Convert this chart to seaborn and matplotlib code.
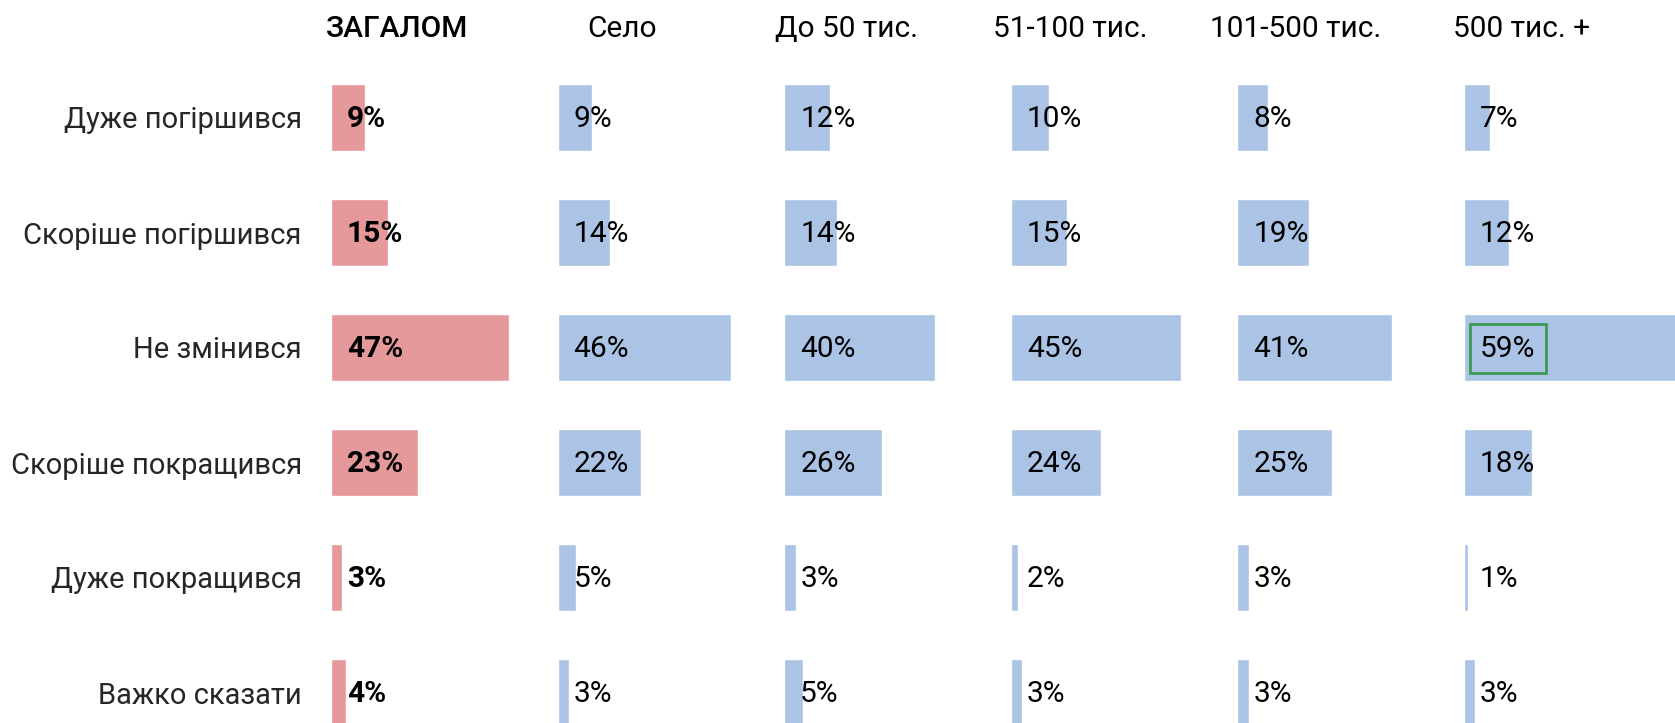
import matplotlib
matplotlib.use("Agg")
import matplotlib.pyplot as plt
import seaborn as sns

# Дані з графіка
categories = ["Дуже погіршився", "Скоріше погіршився", "Не змінився",
              "Скоріше покращився", "Дуже покращився", "Важко сказати"]
groups = ["ЗАГАЛОМ", "Село", "До 50 тис.", "51-100 тис.", "101-500 тис.", "500 тис. +"]
total = [9, 15, 47, 23, 3, 4]
selo = [9, 14, 46, 22, 5, 3]
do_50 = [12, 14, 40, 26, 3, 5]
t_51_100 = [10, 15, 45, 24, 2, 3]
t_101_500 = [8, 19, 41, 25, 3, 3]
t_500_plus = [7, 12, 59, 18, 1, 3]

series = [total, selo, do_50, t_51_100, t_101_500, t_500_plus]

sns.set_style("white")
plt.rcParams["font.family"] = ["Roboto", "DejaVu Sans"]

W, H = 1675, 723
fig = plt.figure(figsize=(W / 100, H / 100), dpi=100)

x0 = 331
panel_w = 226.6
top = 60
bottom = 750
# зсув заголовків від початку панелі (px)
head_dx = [66, 64, 62, 59, 58, 58]

for i, (name, vals) in enumerate(zip(groups, series)):
    ax = fig.add_axes([(x0 + i * panel_w) / W, (H - bottom) / H,
                       panel_w / W, (bottom - top) / H])
    color = "#E6999B" if i == 0 else "#ABC4E6"
    sns.barplot(x=vals, y=categories, ax=ax, color=color, width=0.58,
                orient="h", saturation=1)
    ax.set_xlim(0, 60)
    ax.set_xlabel("")
    ax.set_ylabel("")
    ax.set_xticks([])
    sns.despine(ax=ax, left=True, bottom=True)
    if i == 0:
        ax.tick_params(axis="y", length=0, pad=21, labelsize=21)
    else:
        ax.set_yticks([])
    ax.patch.set_alpha(0)

    for j, v in enumerate(vals):
        kw = {}
        if i == 5 and v == max(vals):
            kw["bbox"] = dict(boxstyle="square,pad=0.35", fc="none",
                              ec="#3E9A52", lw=2)
        ax.annotate(f"{v}%", xy=(0, j), xytext=(11.5, -1),
                    textcoords="offset points", va="center", ha="left",
                    fontsize=21.5, color="black",
                    fontweight="bold" if i == 0 else "normal", **kw)

    fig.text((x0 + i * panel_w + head_dx[i]) / W, 1 - 29 / H, name,
             ha="center", va="center", fontsize=21.5, color="black",
             fontweight="medium" if i == 0 else "normal")

fig.savefig("out.png", dpi=100)
